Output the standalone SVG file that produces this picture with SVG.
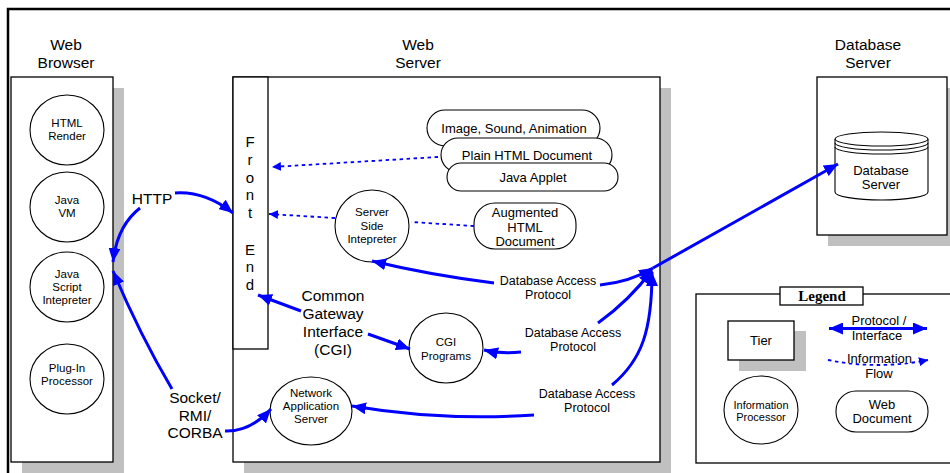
<svg xmlns="http://www.w3.org/2000/svg" width="950" height="473" viewBox="0 0 950 473">
<defs>
<marker id="ah" markerUnits="userSpaceOnUse" markerWidth="15" markerHeight="12" refX="14" refY="6" orient="auto"><path d="M0,0 L14,6 L0,12 z" fill="#0000ff"/></marker>
<marker id="ahs" markerUnits="userSpaceOnUse" markerWidth="15" markerHeight="12" refX="14" refY="6" orient="auto-start-reverse"><path d="M0,0 L14,6 L0,12 z" fill="#0000ff"/></marker>
<marker id="ad" markerUnits="userSpaceOnUse" markerWidth="10" markerHeight="9" refX="9" refY="4.5" orient="auto"><path d="M0,0 L9,4.5 L0,9 z" fill="#0000ff"/></marker>
</defs>
<style>
.box{fill:#fff;stroke:#000;stroke-width:1.3}
.sh{fill:#c0c0c0}
.nd{fill:#fff;stroke:#000;stroke-width:1.1}
.t{font-family:"Liberation Sans",Arial,sans-serif;fill:#000;text-anchor:middle}
.ttl{font-size:15.5px}
.c{font-size:11.5px}
.d{font-size:13px}
.lbl{font-size:15.5px}
.db{font-size:12.5px}
.fe{font-size:15px}
.pr{fill:none;stroke:#0000ff;stroke-width:3;marker-end:url(#ah)}
.fl{fill:none;stroke:#0000ff;stroke-width:1.8;stroke-dasharray:3.5,3.5}
</style>
<rect x="0" y="0" width="950" height="473" fill="#fff"/>
<rect x="8" y="9" width="970" height="480" fill="none" stroke="#000" stroke-width="2.5"/>

<g id="web-browser">
<text class="t ttl" x="66" y="50">Web</text>
<text class="t ttl" x="66" y="68">Browser</text>
<rect class="sh" x="22" y="88" width="102" height="385"/>
<rect class="box" x="11" y="77" width="102" height="385"/>
</g>
<g id="html-render"><ellipse class="nd" cx="67" cy="130" rx="37" ry="35"/><text class="t c" x="67" y="127">HTML</text><text class="t c" x="67" y="140">Render</text></g>
<g id="java-vm"><ellipse class="nd" cx="67" cy="207" rx="37" ry="35"/><text class="t c" x="67" y="204">Java</text><text class="t c" x="67" y="217">VM</text></g>
<g id="java-script"><ellipse class="nd" cx="67" cy="287" rx="37" ry="35"/><text class="t c" x="67" y="278">Java</text><text class="t c" x="67" y="291">Script</text><text class="t c" x="67" y="304">Intepreter</text></g>
<g id="plug-in"><ellipse class="nd" cx="67" cy="379" rx="37" ry="35"/><text class="t c" x="67" y="372">Plug-In</text><text class="t c" x="67" y="385">Processor</text></g>

<g id="web-server">
<text class="t ttl" x="418" y="50">Web</text>
<text class="t ttl" x="418" y="68">Server</text>
<rect class="sh" x="244" y="88" width="427" height="385"/>
<rect class="box" x="233" y="77" width="427" height="385"/>
</g>
<g id="front-end">
<rect class="box" x="233" y="77" width="35" height="272"/>
<text class="t fe" x="250" y="147">F</text>
<text class="t fe" x="250" y="165">r</text>
<text class="t fe" x="250" y="183">o</text>
<text class="t fe" x="250" y="200">n</text>
<text class="t fe" x="250" y="218">t</text>
<text class="t fe" x="250" y="255">E</text>
<text class="t fe" x="250" y="272">n</text>
<text class="t fe" x="250" y="290">d</text>
</g>
<g id="image-sound"><rect class="nd" x="427" y="110" width="173" height="36" rx="18"/><text class="t d" x="514" y="132.5">Image, Sound, Animation</text></g>
<g id="plain-html"><rect class="nd" x="441" y="138" width="171" height="34" rx="17"/><text class="t d" x="527" y="159.5">Plain HTML Document</text></g>
<g id="java-applet"><rect class="nd" x="447" y="163" width="171" height="28" rx="14"/><text class="t d" x="533" y="181.5">Java Applet</text></g>
<g id="augmented-html"><rect class="nd" x="474" y="203" width="102" height="46" rx="21"/><text class="t d" x="525" y="217">Augmented</text><text class="t d" x="525" y="231.5">HTML</text><text class="t d" x="525" y="246">Document</text></g>
<g id="server-side"><ellipse class="nd" cx="372" cy="226" rx="37" ry="36"/><text class="t c" x="372" y="216">Server</text><text class="t c" x="372" y="230">Side</text><text class="t c" x="372" y="243">Intepreter</text></g>
<g id="cgi-programs"><ellipse class="nd" cx="446" cy="348" rx="37" ry="35"/><text class="t c" x="446" y="346">CGI</text><text class="t c" x="446" y="360">Programs</text></g>
<g id="network-app"><ellipse class="nd" cx="311" cy="411" rx="41" ry="34"/><text class="t c" x="311" y="397">Network</text><text class="t c" x="311" y="410">Application</text><text class="t c" x="311" y="423">Server</text></g>

<g id="database-server">
<text class="t ttl" x="868" y="50">Database</text>
<text class="t ttl" x="868" y="68">Server</text>
<rect class="sh" x="828" y="88" width="130" height="158"/>
<rect class="box" x="817" y="77" width="130" height="158"/>
</g>
<g id="database">
<path class="nd" d="M835,139 L835,192 A46.5,8 0 0 0 928,192 L928,139"/>
<ellipse class="nd" cx="881.5" cy="139" rx="46.5" ry="7"/>
<path fill="none" stroke="#000" stroke-width="1.1" d="M835,143 A46.5,7 0 0 0 928,143 M835,147 A46.5,7 0 0 0 928,147"/>
<text class="t d" x="881" y="174.5">Database</text>
<text class="t d" x="881" y="189">Server</text>
</g>

<g id="legend">
<rect class="box" x="696" y="294" width="270" height="169"/>
<rect class="box" x="780" y="287" width="83" height="18"/>
<text x="822" y="301" style="font-family:'Liberation Serif','Times New Roman',serif;font-size:15px;font-weight:bold;text-anchor:middle">Legend</text>
<rect class="sh" x="739" y="331" width="67" height="40"/>
<rect class="box" x="728" y="321" width="66" height="39"/>
<text class="t d" x="761" y="345">Tier</text>
<ellipse class="nd" cx="761" cy="410" rx="37" ry="34"/>
<text class="t" style="font-size:11px" x="761" y="409">Information</text>
<text class="t" style="font-size:11px" x="761" y="421">Processor</text>
<rect class="nd" x="836" y="391" width="92" height="41" rx="20"/>
<text class="t d" x="882" y="408.5">Web</text>
<text class="t d" x="882" y="422.5">Document</text>
<path d="M829,328.5 L927,328.5" fill="none" stroke="#0000ff" stroke-width="3" marker-start="url(#ahs)" marker-end="url(#ahs)"/>
<text class="t d" x="879" y="324.5">Protocol /</text>
<text class="t d" x="877" y="340">Interface</text>
<path class="fl" d="M828,360 Q878,370 928,360" marker-end="url(#ad)"/>
<rect x="848" y="351" width="63" height="12" fill="#fff"/>
<text class="t d" x="879.5" y="362.5">Information</text>
<text class="t d" x="879" y="378">Flow</text>
</g>

<g id="connectors">
<path class="pr" d="M175,193 Q205,191 233,213"/>
<path class="pr" d="M140,208 Q117,226 113,262"/>
<path class="pr" d="M172,389 Q140,335 113,271"/>
<path class="pr" d="M225,431 Q250,432 271,409"/>
<path class="pr" d="M301,311 L258,295"/>
<path class="pr" d="M368,334 L410,349"/>
<path class="pr" d="M494,283 Q430,275 372,261"/>
<path class="pr" d="M600,285 Q630,282 653,268"/>
<path class="pr" d="M521,352 Q500,354 484,350"/>
<path class="pr" d="M598,323 Q630,300 652,270"/>
<path class="pr" d="M534,415 Q440,421 352,406"/>
<path class="pr" d="M612,385 C642,360 652,330 652,272"/>
<path class="pr" d="M653,268 L838,164"/>
<path class="fl" d="M438,157 L272,167" marker-end="url(#ad)"/>
<path class="fl" d="M335,218 L269,214" marker-end="url(#ad)"/>
<path class="fl" d="M474,226 L411,222"/>
</g>

<g id="labels">
<text class="t lbl" x="152" y="203.5">HTTP</text>
<text class="t lbl" x="195" y="402.5">Socket/</text>
<text class="t lbl" x="195" y="420.5">RMI/</text>
<text class="t lbl" x="195" y="438">CORBA</text>
<text class="t lbl" x="333" y="300.5">Common</text>
<text class="t lbl" x="333" y="318.5">Gateway</text>
<text class="t lbl" x="333" y="336.5">Interface</text>
<text class="t lbl" x="333" y="354.5">(CGI)</text>
<text class="t db" x="548" y="284.5">Database Access</text>
<text class="t db" x="548" y="299">Protocol</text>
<text class="t db" x="573" y="336.5">Database Access</text>
<text class="t db" x="573" y="351">Protocol</text>
<text class="t db" x="587" y="397.5">Database Access</text>
<text class="t db" x="587" y="412">Protocol</text>
</g>
</svg>
